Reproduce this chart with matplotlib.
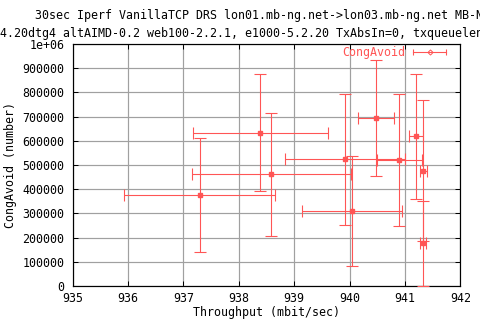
import matplotlib
matplotlib.use("Agg")
import matplotlib.pyplot as plt
from matplotlib.lines import Line2D
from matplotlib.legend_handler import HandlerLine2D

TITLE_1 = "30sec Iperf VanillaTCP DRS lon01.mb-ng.net->lon03.mb-ng.net MB-NG"
TITLE_2 = "2.4.20dtg4 altAIMD-0.2 web100-2.2.1, e1000-5.2.20 TxAbsIn=0, txqueuelen=2000"

# one point per run: mean throughput / congavoid count, with spread
throughput = [938.39, 937.29, 938.59, 940.48, 939.92, 940.90, 940.04, 941.20, 941.33, 941.33]
throughput_err = [1.22, 1.37, 1.43, 0.32, 1.08, 0.40, 0.90, 0.13, 0.06, 0.055]
congavoid = [634000, 375000, 461000, 694000, 524000, 521000, 311000, 618000, 477000, 177000]
congavoid_err = [240000, 236000, 254000, 240000, 271000, 273000, 228000, 257000, 290000, 176000]

x_ticks = [935, 936, 937, 938, 939, 940, 941, 942]
y_ticks = [0, 100000, 200000, 300000, 400000, 500000, 600000, 700000, 800000, 900000, 1000000]
y_ticklabels = ["0", "100000", "200000", "300000", "400000", "500000",
                "600000", "700000", "800000", "900000", "1e+06"]

RED = "#ff5555"
GRID = "#a0a0a0"
PX = 0.72  # one pixel in points at 100 dpi

plt.rcParams["font.family"] = ["DejaVu Sans Mono"]
plt.rcParams["font.size"] = 8.37

fig = plt.figure(figsize=(4.8, 3.2), dpi=100)
ax = fig.add_axes([72.7 / 480, 34 / 320, 387.6 / 480, 242 / 320])

ax.errorbar(throughput, congavoid, xerr=throughput_err, yerr=congavoid_err,
            fmt="s", color=RED, ms=2.6, lw=PX * 1.1, elinewidth=PX * 1.1,
            capsize=4, capthick=PX * 1.1, zorder=5)

ax.set_xlim(935, 942)
ax.set_ylim(0, 1000000)
ax.set_xticks(x_ticks)
ax.set_xticklabels([str(t) for t in x_ticks])
ax.set_yticks(y_ticks)
ax.set_yticklabels(y_ticklabels)
ax.grid(True, color=GRID, lw=PX * 1.2, zorder=0)
ax.set_axisbelow(True)
ax.tick_params(direction="in", length=3.6, width=PX, color="black",
               top=True, right=True)
ax.tick_params(axis="x", pad=4.0)
ax.tick_params(axis="y", pad=6.0)
for s in ax.spines.values():
    s.set_linewidth(PX * 1.2)

ax.set_xlabel("Throughput (mbit/sec)", labelpad=1.2)
ax.set_ylabel("CongAvoid (number)", labelpad=4)

# gnuplot-like key: |--o--| sample to the right of the red label
cap_line = Line2D([], [], color=RED, lw=PX * 1.1, marker="|", ms=4, mew=PX * 1.1)
dot = Line2D([], [], ls="none", marker="D", ms=2.6, mfc="none", mec=RED, mew=PX)
ax.legend([(cap_line, dot)], ["CongAvoid"],
          handler_map={cap_line: HandlerLine2D(numpoints=2, marker_pad=0),
                       dot: HandlerLine2D(numpoints=1)},
          loc="upper right", bbox_to_anchor=(0.964, 0.99), frameon=False,
          markerfirst=False, handlelength=2.85, handletextpad=0.65,
          borderpad=0, borderaxespad=0, labelcolor=RED)

fig.text(35 / 480, 1 - 15.7 / 320, TITLE_1, ha="left", va="center")
fig.text(-14 / 480, 1 - 33 / 320, TITLE_2, ha="left", va="center")

fig.savefig("out.png", dpi=100)
